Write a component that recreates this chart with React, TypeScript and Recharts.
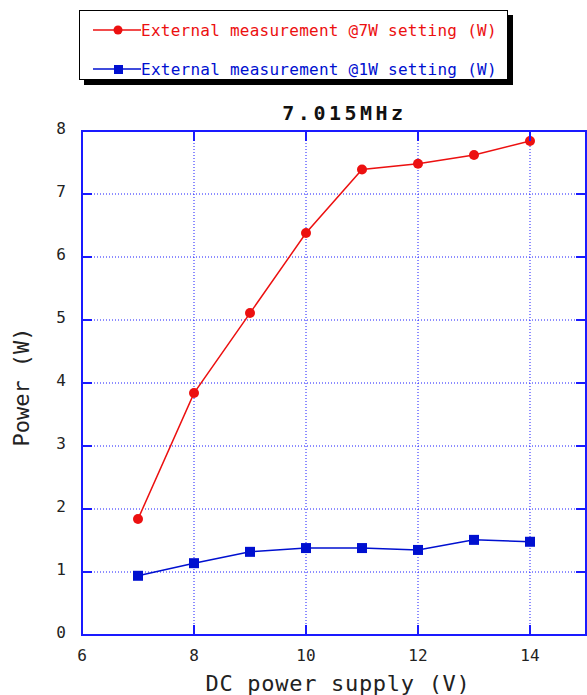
import { CartesianGrid, Line, LineChart, ReferenceArea, XAxis, YAxis } from 'recharts'

const VOLTAGES = [7, 8, 9, 10, 11, 12, 13, 14]
const SETTING_7W = [1.84, 3.84, 5.11, 6.38, 7.39, 7.48, 7.62, 7.84]
const SETTING_1W = [0.94, 1.14, 1.32, 1.38, 1.38, 1.35, 1.51, 1.48]
const X_TICKS = [6, 8, 10, 12, 14]
const Y_TICKS = [0, 1, 2, 3, 4, 5, 6, 7, 8]

const SERIES = [
  { key: 'w7', name: 'External measurement @7W setting (W)', color: '#ec1010', shape: 'circle' },
  { key: 'w1', name: 'External measurement @1W setting (W)', color: '#0010d0', shape: 'square' },
]

const data = VOLTAGES.map((v, i) => ({ v, w7: SETTING_7W[i], w1: SETTING_1W[i] }))

const W = 587
const H = 695
const LEFT = 82
const RIGHT = 586
const TOP = 131
const BOTTOM = 635
const GRID = '#1a1aff'
const MONO = '"DejaVu Sans Mono", monospace'

function XTick({ x, payload }: any) {
  return (
    <g>
      <line x1={x} x2={x} y1={BOTTOM} y2={BOTTOM - 10} stroke={GRID} strokeWidth={2} />
      <line x1={x} x2={x} y1={TOP} y2={TOP + 10} stroke={GRID} strokeWidth={2} />
      <text x={x} y={655} textAnchor="middle" dominantBaseline="central" fontFamily={MONO} fontSize={16} fill="#222">
        {payload.value}
      </text>
    </g>
  )
}

function YTick({ y, payload }: any) {
  return (
    <g>
      <line x1={LEFT} x2={LEFT + 10} y1={y} y2={y} stroke={GRID} strokeWidth={2} />
      <line x1={RIGHT - 10} x2={RIGHT} y1={y} y2={y} stroke={GRID} strokeWidth={2} />
      <text x={66} y={y - 3} textAnchor="end" dominantBaseline="central" fontFamily={MONO} fontSize={16} fill="#222">
        {payload.value}
      </text>
    </g>
  )
}

function YTitle() {
  return (
    <text
      x={21}
      y={387}
      transform="rotate(-90 21 387)"
      textAnchor="middle"
      dominantBaseline="central"
      fontFamily={MONO}
      fontSize={22}
      fill="#222"
    >
      Power (W)
    </text>
  )
}

function XTitle() {
  return (
    <text x={338} y={691} textAnchor="middle" fontFamily={MONO} fontSize={22} letterSpacing={0.7} fill="#222">
      DC power supply (V)
    </text>
  )
}

function SquareDot({ cx, cy, fill }: any) {
  if (cx == null || cy == null) return null
  return <rect x={cx - 5} y={cy - 5} width={10} height={10} fill={fill} />
}

function LegendBox() {
  return (
    <div
      style={{
        position: 'absolute',
        left: 79,
        top: 10,
        width: 427,
        height: 68,
        border: '1px solid #000',
        boxShadow: '5px 5px 0 #000',
        background: '#fff',
      }}
    >
      {SERIES.map((s, i) => (
        <div
          key={s.key}
          style={{ position: 'absolute', left: 13, top: 8 + i * 39, height: 22, display: 'flex', alignItems: 'center' }}
        >
          <svg width={48} height={22}>
            <line x1={0} x2={48} y1={11} y2={11} stroke={s.color} strokeWidth={1.5} />
            {s.shape === 'circle' ? (
              <circle cx={25} cy={11} r={4.5} fill={s.color} />
            ) : (
              <rect x={21} y={7} width={9} height={9} fill={s.color} />
            )}
          </svg>
          <span style={{ fontFamily: MONO, fontSize: 16, letterSpacing: 0.25, color: s.color, whiteSpace: 'pre' }}>
            {s.name}
          </span>
        </div>
      ))}
    </div>
  )
}

export default function App() {
  return (
    <div style={{ position: 'absolute', left: 0, top: 0, width: W, height: H, background: '#fff', overflow: 'hidden' }}>
      <LineChart width={W} height={H} data={data} margin={{ top: TOP, right: W - RIGHT, bottom: 0, left: 0 }}>
        <CartesianGrid stroke={GRID} strokeDasharray="1 2" strokeWidth={1} />
        <XAxis
          dataKey="v"
          type="number"
          domain={[6, 15]}
          ticks={X_TICKS}
          height={H - BOTTOM}
          tickLine={false}
          axisLine={{ stroke: GRID, strokeWidth: 2 }}
          tick={XTick}
          label={<XTitle />}
        />
        <YAxis
          type="number"
          domain={[0, 8]}
          ticks={Y_TICKS}
          width={LEFT}
          tickLine={false}
          axisLine={{ stroke: GRID, strokeWidth: 2 }}
          tick={YTick}
          label={<YTitle />}
        />
        <ReferenceArea x1={6} x2={15} y1={0} y2={8} fill="none" stroke={GRID} strokeWidth={2} ifOverflow="visible" />
        <Line
          dataKey="w7"
          name={SERIES[0].name}
          stroke={SERIES[0].color}
          strokeWidth={1.5}
          dot={{ r: 5, fill: SERIES[0].color, stroke: 'none' }}
          activeDot={false}
          isAnimationActive={false}
        />
        <Line
          dataKey="w1"
          name={SERIES[1].name}
          stroke={SERIES[1].color}
          strokeWidth={1.5}
          dot={<SquareDot fill={SERIES[1].color} />}
          activeDot={false}
          isAnimationActive={false}
        />
      </LineChart>
      <LegendBox />
      <div
        style={{
          position: 'absolute',
          left: 0,
          width: 689,
          top: 102,
          textAlign: 'center',
          fontFamily: MONO,
          fontWeight: 'bold',
          fontSize: 20,
          letterSpacing: 3.5,
          color: '#111',
          lineHeight: '22px',
        }}
      >
        7.015MHz
      </div>
    </div>
  )
}
